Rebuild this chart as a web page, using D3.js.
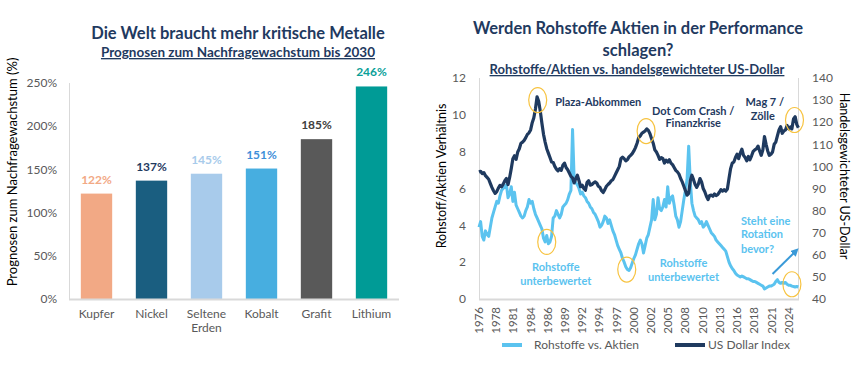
<!DOCTYPE html>
<html lang="de">
<head>
    <meta charset="UTF-8">
    <title>Kritische Metalle / Rohstoffe vs. Aktien</title>
    <style>
        body {
            margin: 0;
            padding: 0;
            background-color: #ffffff;
            font-family: Lato, "Liberation Sans", sans-serif;
        }
        .chart-title {
            text-anchor: middle;
            font-weight: bold;
            fill: #1f3a5f;
        }
        .tick-label {
            fill: #595959;
            font-size: 12px;
        }
        .note {
            font-size: 11px;
            font-weight: bold;
        }
    </style>
</head>
<body>
    <svg width="860" height="366"></svg>

    <script src="https://d3js.org/d3.v7.min.js"></script>
    <script>
        // ---- left chart data ----
        const metals = ["Kupfer", "Nickel", "Seltene Erden", "Kobalt", "Grafit", "Lithium"];
        const growth = [122, 137, 145, 151, 185, 246];
        const pctTicks = [0, 50, 100, 150, 200, 250];

        // ---- right chart data (quarterly, starting 1976.0) ----
        const startYear = 1976;
        const stepYears = 0.25;
        const ratio = [
            3.9, 4.2, 3.4, 3.2,    3.7, 3.5, 3.4, 3.9,    4.4, 4.7, 5.0, 5.3,    5.2, 5.6, 5.9, 6.0,
            6.1, 6.2, 5.5, 5.7,    6.1, 5.3, 5.8, 5.1,    4.9, 4.7, 4.5, 4.4,    4.5, 4.8, 5.0, 5.4,
            5.2, 5.3, 4.9, 4.6,    4.4, 4.2, 4.0, 3.8,    3.3, 3.1, 3.45, 3.0,   3.1, 3.4, 4.4, 4.5,
            4.8, 4.6, 4.4, 4.6,    5.0, 5.1, 5.2, 5.4,    5.7, 5.9, 9.2, 6.5,    6.3, 6.2, 6.0, 5.7,
            5.8, 5.6, 5.5, 5.3,    5.2, 5.0, 4.9, 4.7,    4.6, 4.4, 4.2, 3.9,    4.0, 4.2, 4.5, 4.4,
            4.1, 4.3, 4.0, 3.7,    3.5, 3.2, 2.9, 2.7,    2.5, 2.2, 2.0, 1.75,   1.6, 1.55, 1.7, 1.95,
            2.2, 2.4, 2.7, 3.0,    3.2, 3.0, 2.5, 2.9,    3.3, 3.5, 3.9, 4.3,    5.4, 4.3, 4.6, 5.5,
            4.9, 4.8, 5.0, 5.4,    5.0, 6.1, 5.2, 5.5,    5.6, 5.1, 4.5, 4.3,    3.9, 4.2, 4.8, 5.4,
            5.9, 6.5, 8.3, 6.4,    5.2, 4.8, 4.5, 4.4,    4.3, 4.1, 4.2, 3.9,    4.0, 4.2, 4.0, 3.8,
            3.6, 3.5, 3.4, 3.2,    3.1, 3.0, 2.9, 2.8,    2.7, 2.6, 2.3, 2.0,    1.8, 1.65, 1.55, 1.4,
            1.3, 1.25, 1.2, 1.25,  1.2, 1.15, 1.1, 1.1,   1.05, 1.0, 0.95, 0.95, 0.9, 0.85, 0.8, 0.75,
            0.7, 0.55, 0.6, 0.65,  0.7, 0.7, 0.75, 0.8,   0.95, 1.05, 0.9, 0.85, 0.9, 0.85, 0.9, 0.8,
            0.75, 0.75, 0.7, 0.68, 0.65, 0.68, 0.65
        ];
        const usd = [
            97.5, 97.8, 96.8, 97.2,     95.8, 95.0, 94.2, 92.3,     90.5, 89.0, 87.8, 88.6,     90.2, 91.4, 90.8, 92.0,
            93.5, 94.5, 91.8, 95.0,     99.0, 103.5, 104.8, 103.2,  106.5, 108.0, 110.5, 111.0,  111.8, 113.0, 114.5, 115.2,
            116.5, 119.8, 122.0, 126.0, 131.5, 129.5, 125.0, 119.5, 114.5, 111.0, 108.0, 106.0,  104.0, 102.0, 101.8, 100.0,
            98.8, 98.0, 99.0, 98.2,     100.5, 101.5, 99.5, 98.5,   97.0, 95.5, 94.8, 92.5,     94.5, 96.0, 93.5, 90.8,
            91.5, 90.0, 89.2, 92.8,     93.5, 91.5, 91.8, 92.5,     93.0, 92.5, 91.0, 90.5,     89.0, 88.2, 89.5, 91.0,
            91.8, 92.5, 93.5, 94.0,     95.5, 97.0, 98.5, 100.0,    103.5, 104.2, 103.5, 102.5, 103.0, 104.3, 105.0, 105.8,
            107.0, 108.5, 110.5, 113.0, 113.8, 115.0, 115.5, 116.0, 117.0, 116.3, 114.8, 112.5, 110.5, 107.5, 106.5, 105.0,
            103.2, 104.0, 103.5, 101.5, 102.8, 102.0, 103.0, 101.5, 100.8, 99.5, 98.2, 97.5,    96.5, 94.5, 93.0, 91.0,
            89.0, 87.0, 87.8, 93.5,     96.0, 94.0, 91.8, 90.5,     92.0, 94.5, 93.0, 90.0,     88.5, 86.5, 85.0, 86.8,
            87.0, 86.5, 87.5, 86.8,     87.2, 88.3, 89.5, 88.8,     89.5, 88.8, 89.8, 94.5,     99.0, 101.5, 102.0, 104.0,
            105.5, 103.5, 106.0, 107.8, 105.0, 104.0, 102.5, 104.5, 103.0, 104.8, 106.8, 107.5, 108.0, 109.2, 107.0, 105.0,
            107.5, 113.5, 110.0, 107.0, 105.0, 105.5, 106.5, 110.0, 111.0, 113.8, 116.5, 118.0, 115.0, 116.0, 116.5, 118.5,
            117.0, 117.8, 117.0, 121.5, 122.5, 119.0, 117.5
        ];
        const yearLabels = ["1976", "1978", "1981", "1984", "1986", "1989", "1992", "1994", "1997", "2000",
                            "2002", "2005", "2008", "2010", "2013", "2016", "2018", "2021", "2024"];
        const ratioTicks = [0, 2, 4, 6, 8, 10, 12];
        const usdTicks = [40, 50, 60, 70, 80, 90, 100, 110, 120, 130, 140];

        // annotations: [year, ratio-axis value]
        const circles = [
            {year: 1985.1, v: 130, axis: "usd"},
            {year: 2001.9, v: 116, axis: "usd"},
            {year: 2024.9, v: 121, axis: "usd"},
            {year: 1986.5, v: 3.1, axis: "ratio"},
            {year: 1998.9, v: 1.6, axis: "ratio"},
            {year: 2024.5, v: 0.8, axis: "ratio"}
        ];
        const notes = [
            {text: "Plaza-Abkommen", year: 1987.8, v: 10.7, anchor: "start", dark: true},
            {text: "Dot Com Crash  /", year: 2009.2, v: 10.22, anchor: "middle", dark: true},
            {text: "Finanzkrise", year: 2009.2, v: 9.54, anchor: "middle", dark: true},
            {text: "Mag 7 /", year: 2020.3, v: 10.71, anchor: "middle", dark: true},
            {text: "Zölle", year: 2020.0, v: 9.95, anchor: "middle", dark: true},
            {text: "Rohstoffe", year: 1987.9, v: 1.72, anchor: "middle", dark: false},
            {text: "unterbewertet", year: 1987.9, v: 0.99, anchor: "middle", dark: false},
            {text: "Rohstoffe", year: 2007.7, v: 1.94, anchor: "middle", dark: false},
            {text: "unterbewertet", year: 2007.7, v: 1.18, anchor: "middle", dark: false},
            {text: "Steht eine", year: 2016.6, v: 4.25, anchor: "start", dark: false},
            {text: "Rotation", year: 2016.6, v: 3.51, anchor: "start", dark: false},
            {text: "bevor?", year: 2016.6, v: 2.71, anchor: "start", dark: false}
        ];
        const arrow = {from: [2021.5, 1.36], to: [2025.1, 2.6]};

        const navy = "#1f3a5f";
        const lightBlue = "#5bc3ef";
        const barColors = ["#f2a985", "#1a5e80", "#a8cbeb", "#47aee0", "#595959", "#009b96"];
        const labelColors = ["#f2a985", "#1f3a5f", "#a8cbeb", "#3f8fd9", "#404040", "#0a9f98"];

        const svg = d3.select("svg");

        // ================= LEFT: bar chart =================
        svg.append("text").attr("class", "chart-title")
            .attr("x", 238).attr("y", 39).style("font-size", "16.5px")
            .text("Die Welt braucht mehr kritische Metalle");
        svg.append("text").attr("class", "chart-title")
            .attr("x", 238).attr("y", 57).style("font-size", "13.5px")
            .style("text-decoration", "underline")
            .text("Prognosen zum Nachfragewachstum bis 2030");

        const x = d3.scaleBand().domain(metals).range([69, 399]).paddingInner(0.43).paddingOuter(0.215);
        const y = d3.scaleLinear().domain([0, 250]).range([299, 83]);

        svg.append("g").selectAll("text")
            .data(pctTicks)
            .join("text")
            .attr("class", "tick-label")
            .attr("x", 57)
            .attr("y", d => y(d))
            .attr("dy", "0.35em")
            .attr("text-anchor", "end")
            .text(d => d + "%");

        svg.append("line").attr("x1", 69.5).attr("x2", 69.5).attr("y1", 83).attr("y2", 299)
            .attr("stroke", "#d9d9d9");

        svg.append("g").selectAll("rect")
            .data(growth)
            .join("rect")
            .attr("x", (d, i) => x(metals[i]))
            .attr("y", d => y(d))
            .attr("width", x.bandwidth())
            .attr("height", d => y(0) - y(d))
            .attr("fill", (d, i) => barColors[i]);

        svg.append("line").attr("x1", 69).attr("x2", 399).attr("y1", 299.5).attr("y2", 299.5)
            .attr("stroke", "#d9d9d9").attr("stroke-width", 2);

        svg.append("g").selectAll("text")
            .data(growth)
            .join("text")
            .attr("x", (d, i) => x(metals[i]) + x.bandwidth() / 2)
            .attr("y", d => y(d) - 10)
            .attr("text-anchor", "middle")
            .style("font-size", "12px")
            .style("font-weight", "bold")
            .attr("fill", (d, i) => labelColors[i])
            .text(d => d + "%");

        svg.append("g").selectAll("text")
            .data(metals)
            .join("text")
            .attr("class", "tick-label")
            .attr("text-anchor", "middle")
            .attr("x", d => x(d) + x.bandwidth() / 2)
            .attr("y", 318)
            .each(function(d) {
                const parts = d.split(" ");
                d3.select(this).selectAll("tspan")
                    .data(parts)
                    .join("tspan")
                    .attr("x", x(d) + x.bandwidth() / 2)
                    .attr("dy", (p, i) => i === 0 ? 0 : 14)
                    .text(p => p);
            });

        svg.append("text")
            .attr("transform", "translate(17,172) rotate(-90)")
            .attr("text-anchor", "middle")
            .style("font-size", "13px")
            .attr("fill", "#000")
            .text("Prognosen zum Nachfragewachstum (%)");

        // ================= RIGHT: line chart =================
        svg.append("text").attr("class", "chart-title")
            .attr("x", 638).attr("y", 34).style("font-size", "16.5px")
            .text("Werden Rohstoffe Aktien in der Performance");
        svg.append("text").attr("class", "chart-title")
            .attr("x", 638).attr("y", 56).style("font-size", "16.5px")
            .text("schlagen?");
        svg.append("text").attr("class", "chart-title")
            .attr("x", 637).attr("y", 74).style("font-size", "13px")
            .style("text-decoration", "underline")
            .text("Rohstoffe/Aktien vs. handelsgewichteter US-Dollar");

        const xt = d3.scaleLinear().domain([1976, 2025.6]).range([479, 799]);
        const yr = d3.scaleLinear().domain([0, 12]).range([299, 78]);
        const yu = d3.scaleLinear().domain([40, 140]).range([299, 78]);

        // frame
        svg.append("line").attr("x1", 479.5).attr("x2", 479.5).attr("y1", 78).attr("y2", 299).attr("stroke", "#d9d9d9");
        svg.append("line").attr("x1", 798.5).attr("x2", 798.5).attr("y1", 78).attr("y2", 299).attr("stroke", "#d9d9d9");
        svg.append("line").attr("x1", 479).attr("x2", 799).attr("y1", 299.5).attr("y2", 299.5).attr("stroke", "#d9d9d9").attr("stroke-width", 2);

        svg.append("g").selectAll("text")
            .data(ratioTicks)
            .join("text")
            .attr("class", "tick-label")
            .attr("x", 466)
            .attr("y", d => yr(d))
            .attr("dy", "0.35em")
            .attr("text-anchor", "end")
            .text(d => d);

        svg.append("g").selectAll("text")
            .data(usdTicks)
            .join("text")
            .attr("class", "tick-label")
            .attr("x", 812)
            .attr("y", d => yu(d))
            .attr("dy", "0.35em")
            .attr("text-anchor", "start")
            .text(d => d);

        svg.append("g").selectAll("text")
            .data(yearLabels)
            .join("text")
            .attr("class", "tick-label")
            .style("font-size", "11.5px")
            .attr("text-anchor", "end")
            .attr("transform", (d, i) => `translate(${xt(startYear + i * 8 / 3)},307) rotate(-90)`)
            .attr("dy", "0.35em")
            .text(d => d);

        svg.append("text")
            .attr("transform", "translate(446,176) rotate(-90)")
            .attr("text-anchor", "middle")
            .style("font-size", "12.5px")
            .attr("fill", "#000")
            .text("Rohstoff/Aktien Verhältnis");

        svg.append("text")
            .attr("transform", "translate(840,176) rotate(90)")
            .attr("text-anchor", "middle")
            .style("font-size", "12.5px")
            .attr("fill", "#000")
            .text("Handelsgewichteter US-Dollar");

        const ratioLine = d3.line()
            .x((d, i) => xt(startYear + i * stepYears))
            .y(d => yr(d));
        const usdLine = d3.line()
            .x((d, i) => xt(startYear + i * stepYears))
            .y(d => yu(d));

        svg.append("path").datum(ratio)
            .attr("d", ratioLine)
            .attr("fill", "none")
            .attr("stroke", lightBlue)
            .attr("stroke-width", 3)
            .attr("stroke-linejoin", "round");

        svg.append("path").datum(usd)
            .attr("d", usdLine)
            .attr("fill", "none")
            .attr("stroke", navy)
            .attr("stroke-width", 3.2)
            .attr("stroke-linejoin", "round");

        // yellow circles
        svg.append("g").selectAll("ellipse")
            .data(circles)
            .join("ellipse")
            .attr("cx", d => xt(d.year))
            .attr("cy", d => d.axis === "usd" ? yu(d.v) : yr(d.v))
            .attr("rx", 9)
            .attr("ry", 12.5)
            .attr("fill", "none")
            .attr("stroke", "#f7c340")
            .attr("stroke-width", 1.2);

        svg.append("g").selectAll("text")
            .data(notes)
            .join("text")
            .attr("class", "note")
            .attr("x", d => xt(d.year))
            .attr("y", d => yr(d.v))
            .attr("dy", "0.35em")
            .attr("text-anchor", d => d.anchor)
            .attr("fill", d => d.dark ? navy : lightBlue)
            .text(d => d.text);

        // arrow
        svg.append("defs").append("marker")
            .attr("id", "head")
            .attr("viewBox", "0 0 10 10")
            .attr("refX", 5).attr("refY", 5)
            .attr("markerWidth", 4).attr("markerHeight", 4)
            .attr("orient", "auto")
            .append("path").attr("d", "M0,0L10,5L0,10z").attr("fill", "#3a9ad8");
        svg.append("line")
            .attr("x1", xt(arrow.from[0])).attr("y1", yr(arrow.from[1]))
            .attr("x2", xt(arrow.to[0])).attr("y2", yr(arrow.to[1]))
            .attr("stroke", "#3a9ad8")
            .attr("stroke-width", 2)
            .attr("marker-end", "url(#head)");

        // legend
        const legend = svg.append("g").attr("class", "legend");
        legend.append("line").attr("x1", 502).attr("x2", 522).attr("y1", 345).attr("y2", 345)
            .attr("stroke", lightBlue).attr("stroke-width", 4);
        legend.append("text").attr("class", "tick-label").attr("x", 534).attr("y", 345).attr("dy", "0.35em")
            .text("Rohstoffe vs. Aktien");
        legend.append("line").attr("x1", 675).attr("x2", 705).attr("y1", 345).attr("y2", 345)
            .attr("stroke", navy).attr("stroke-width", 4);
        legend.append("text").attr("class", "tick-label").attr("x", 708).attr("y", 345).attr("dy", "0.35em")
            .text("US Dollar Index");
    </script>
</body>
</html>
